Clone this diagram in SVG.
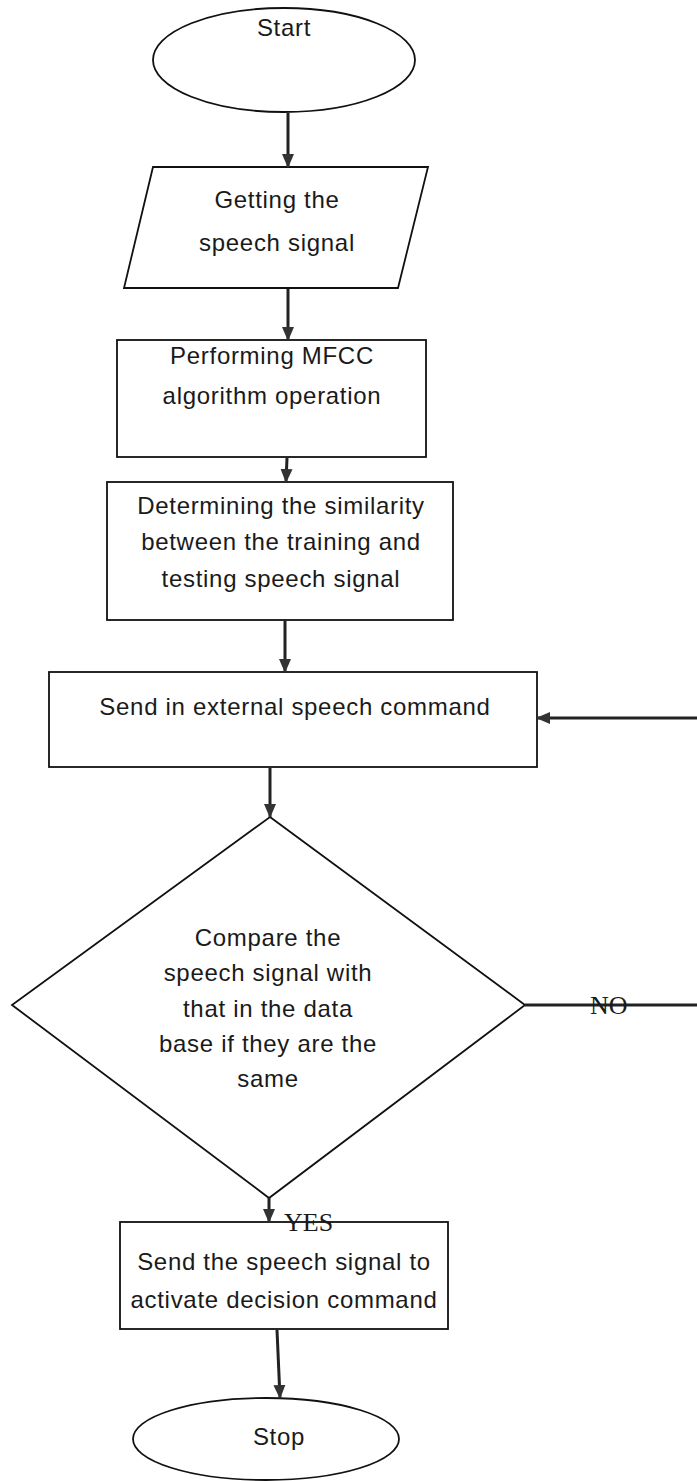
<svg xmlns="http://www.w3.org/2000/svg" width="697" height="1481" viewBox="0 0 697 1481">
  <style>
    .shape { fill: #fff; stroke: #111; stroke-width: 1.8; }
    .label { font-family: "Liberation Sans", Arial, sans-serif; font-size: 24px; fill: #1a1a1a; text-anchor: middle; letter-spacing: 0.7px; }
    .tag { font-family: "Liberation Serif", "Times New Roman", serif; font-size: 26px; fill: #1a1a1a; }
    .flow { fill: none; stroke: #222; stroke-width: 3; }
  </style>
  <defs>
    <marker id="head" markerUnits="userSpaceOnUse" markerWidth="14" markerHeight="14" viewBox="0 0 14 14" refX="13" refY="7" orient="auto">
      <path d="M0,1 L14,7 L0,13 Z" fill="#333"/>
    </marker>
  </defs>

  <rect width="697" height="1481" fill="#fff"/>

  <!-- terminator: start -->
  <g id="start">
    <ellipse class="shape" cx="284" cy="60" rx="131" ry="52"/>
    <text class="label" x="284" y="36">Start</text>
  </g>

  <!-- input: speech signal -->
  <g id="input">
    <polygon class="shape" points="153,167 428,167 398,288 124,288"/>
    <text class="label" x="277" y="208">Getting the</text>
    <text class="label" x="277" y="251">speech signal</text>
  </g>

  <g id="mfcc">
    <rect class="shape" x="117" y="340" width="309" height="117"/>
    <text class="label" x="272" y="364">Performing MFCC</text>
    <text class="label" x="272" y="404">algorithm operation</text>
  </g>

  <g id="similarity">
    <rect class="shape" x="107" y="482" width="346" height="138"/>
    <text class="label" x="281" y="514">Determining the similarity</text>
    <text class="label" x="281" y="550">between the training and</text>
    <text class="label" x="281" y="587">testing speech signal</text>
  </g>

  <g id="external">
    <rect class="shape" x="49" y="672" width="488" height="95"/>
    <text class="label" x="295" y="715">Send in external speech command</text>
  </g>

  <!-- decision -->
  <g id="compare">
    <polygon class="shape" points="270,817 525,1005 269,1198 12,1005"/>
    <text class="label" x="268" y="946">Compare the</text>
    <text class="label" x="268" y="981">speech signal with</text>
    <text class="label" x="268" y="1017">that in the data</text>
    <text class="label" x="268" y="1052">base if they are the</text>
    <text class="label" x="268" y="1087">same</text>
  </g>

  <g id="activate">
    <rect class="shape" x="120" y="1222" width="328" height="107"/>
    <text class="label" x="284" y="1270">Send the speech signal to</text>
    <text class="label" x="284" y="1308">activate decision command</text>
  </g>

  <!-- terminator: stop -->
  <g id="stop">
    <ellipse class="shape" cx="266" cy="1439" rx="133" ry="41"/>
    <text class="label" x="279" y="1445">Stop</text>
  </g>

  <!-- connectors -->
  <g id="connectors">
    <line class="flow" x1="288" y1="113" x2="288" y2="167" marker-end="url(#head)"/>
    <line class="flow" x1="288" y1="289" x2="288" y2="340" marker-end="url(#head)"/>
    <line class="flow" x1="287" y1="458" x2="286" y2="482" marker-end="url(#head)"/>
    <line class="flow" x1="285" y1="621" x2="285" y2="672" marker-end="url(#head)"/>
    <line class="flow" x1="697" y1="718" x2="537" y2="718" marker-end="url(#head)"/>
    <line class="flow" x1="270" y1="768" x2="270" y2="817" marker-end="url(#head)"/>
    <line class="flow" x1="525" y1="1005" x2="697" y2="1005"/>
    <text class="tag" x="590" y="1014">NO</text>
    <line class="flow" x1="269" y1="1198" x2="269" y2="1222" marker-end="url(#head)"/>
    <text class="tag" x="284" y="1231">YES</text>
    <line class="flow" x1="277" y1="1330" x2="280" y2="1398" marker-end="url(#head)"/>
  </g>
</svg>
